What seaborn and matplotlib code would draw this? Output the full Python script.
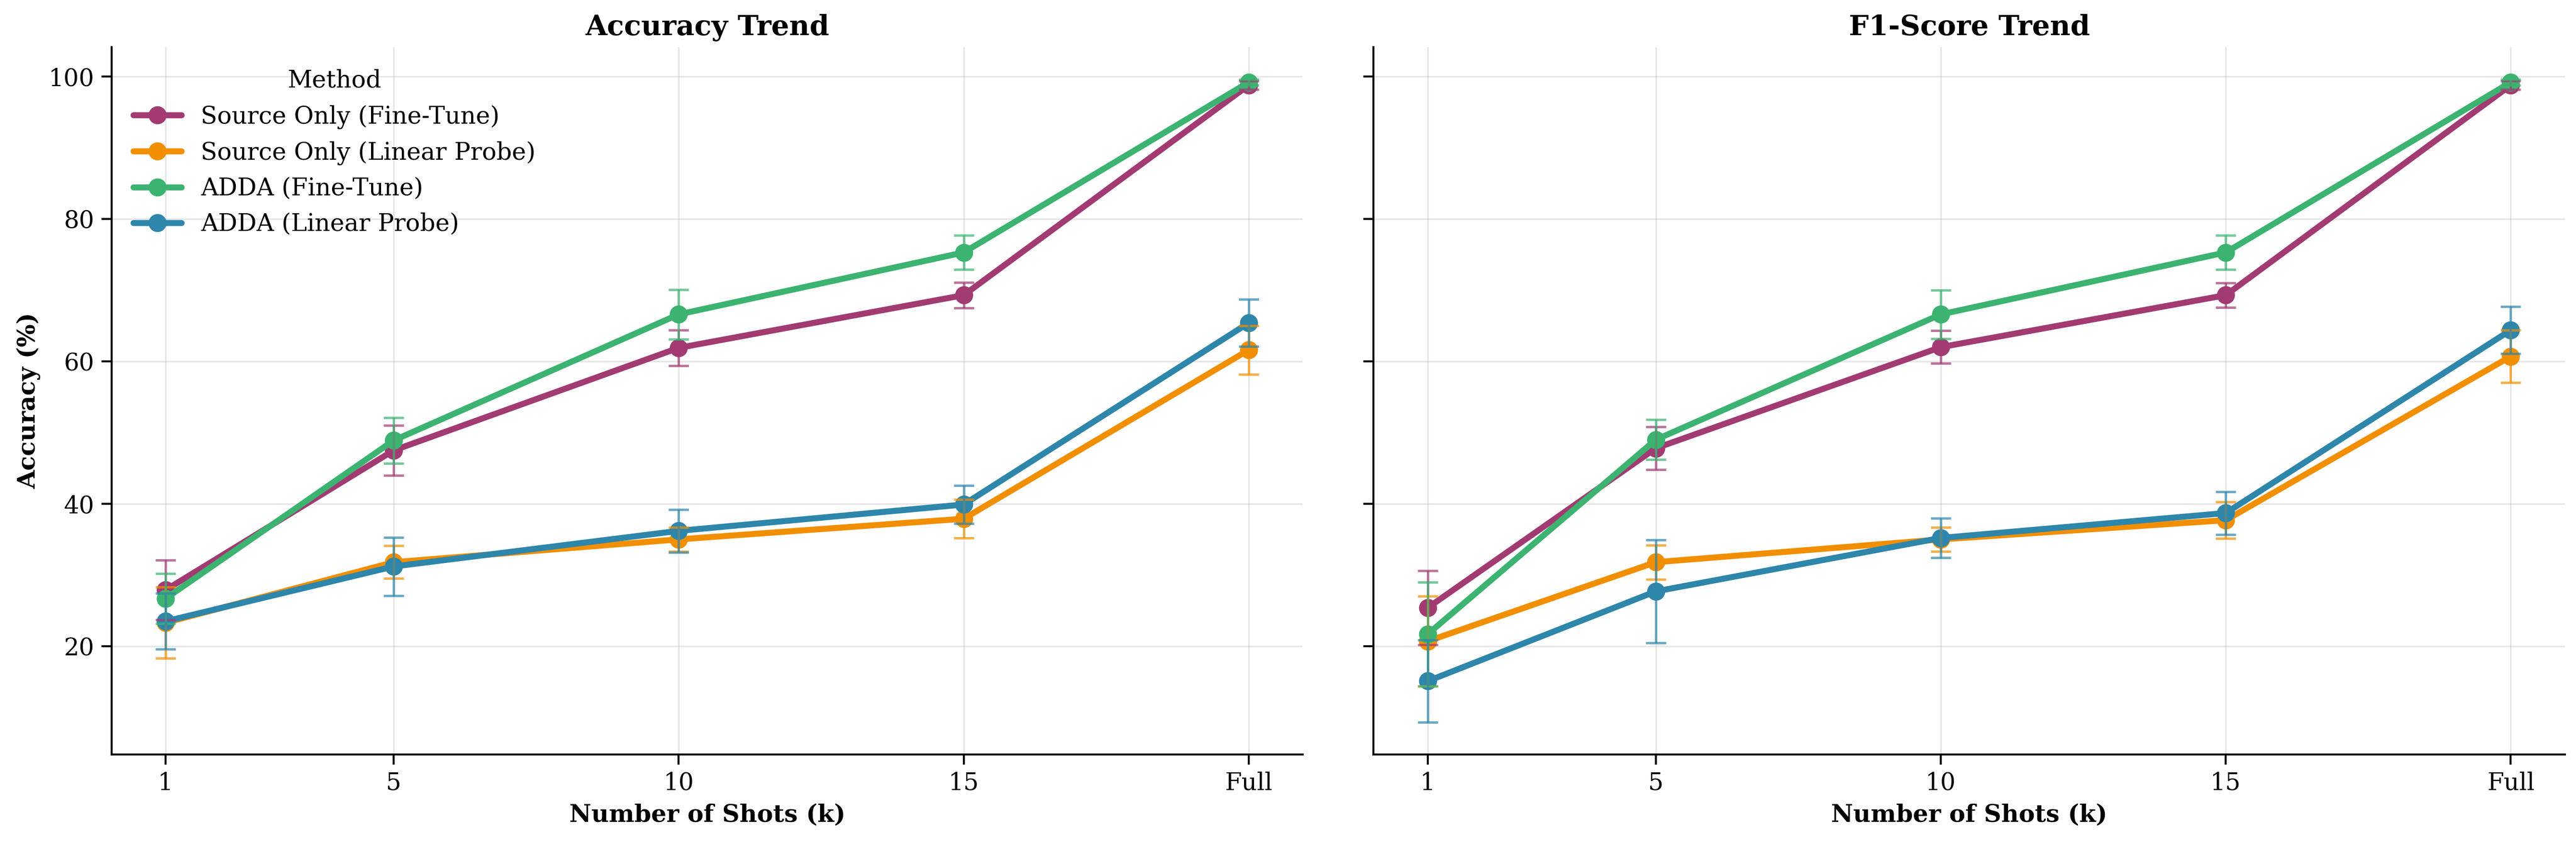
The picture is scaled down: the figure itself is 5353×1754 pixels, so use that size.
import pandas as pd
import seaborn as sns
import matplotlib.pyplot as plt

# datos
shots = [1, 5, 10, 15, 20]
shot_labels = ['1', '5', '10', '15', 'Full']
methods = ['Source Only (Fine-Tune)', 'Source Only (Linear Probe)',
           'ADDA (Fine-Tune)', 'ADDA (Linear Probe)']
colores = ['#A23B72', '#F18F01', '#3CB371', '#2E86AB']

acc_so_ft = [27.9, 47.5, 61.9, 69.3, 98.8]
acc_so_lp = [23.3, 31.8, 35.0, 37.9, 61.6]
acc_adda_ft = [26.7, 48.9, 66.6, 75.3, 99.2]
acc_adda_lp = [23.5, 31.2, 36.2, 39.9, 65.4]

acc_so_ft_std = [4.2, 3.5, 2.5, 1.8, 0.6]
acc_so_lp_std = [5.0, 2.3, 1.7, 2.7, 3.4]
acc_adda_ft_std = [3.5, 3.2, 3.5, 2.4, 0.4]
acc_adda_lp_std = [3.9, 4.1, 3.0, 2.7, 3.3]

f1_so_ft = [25.4, 47.8, 62.0, 69.3, 98.8]
f1_so_lp = [20.7, 31.8, 35.0, 37.7, 60.7]
f1_adda_ft = [21.7, 49.0, 66.6, 75.3, 99.2]
f1_adda_lp = [15.1, 27.7, 35.2, 38.7, 64.4]

f1_so_ft_std = [5.2, 3.0, 2.3, 1.7, 0.6]
f1_so_lp_std = [6.3, 2.4, 1.7, 2.6, 3.7]
f1_adda_ft_std = [7.3, 2.8, 3.4, 2.4, 0.4]
f1_adda_lp_std = [5.8, 7.2, 2.8, 3.0, 3.3]

acc_vals = [acc_so_ft, acc_so_lp, acc_adda_ft, acc_adda_lp]
acc_stds = [acc_so_ft_std, acc_so_lp_std, acc_adda_ft_std, acc_adda_lp_std]
f1_vals = [f1_so_ft, f1_so_lp, f1_adda_ft, f1_adda_lp]
f1_stds = [f1_so_ft_std, f1_so_lp_std, f1_adda_ft_std, f1_adda_lp_std]


def armar_df(vals, stds):
    filas = []
    for m, v, s in zip(methods, vals, stds):
        for x, y, e in zip(shots, v, s):
            filas.append({'Shots': x, 'Value': y, 'Std': e, 'Method': m})
    return pd.DataFrame(filas)


sns.set_style('ticks')
plt.rcParams['font.family'] = 'serif'
plt.rcParams['axes.linewidth'] = 1.0
plt.rcParams['axes.edgecolor'] = 'black'
plt.rcParams['text.color'] = 'black'
plt.rcParams['axes.labelcolor'] = 'black'
plt.rcParams['xtick.color'] = 'black'
plt.rcParams['ytick.color'] = 'black'
plt.rcParams['xtick.major.size'] = 5
plt.rcParams['ytick.major.size'] = 5
plt.rcParams['xtick.major.width'] = 1.0
plt.rcParams['ytick.major.width'] = 1.0

fig, axes = plt.subplots(1, 2, figsize=(5353 / 300, 1754 / 300), dpi=300, sharey=True)
paleta = dict(zip(methods, colores))

paneles = [
    (axes[0], acc_vals, acc_stds, 'Accuracy Trend', 'Accuracy (%)', True),
    (axes[1], f1_vals, f1_stds, 'F1-Score Trend', 'F1-Score (%)', False),
]

for ax, vals, stds, titulo, ylab, con_leyenda in paneles:
    df = armar_df(vals, stds)
    sns.lineplot(data=df, x='Shots', y='Value', hue='Method', hue_order=methods,
                 palette=paleta, marker='o', markersize=9, markeredgewidth=0,
                 linewidth=3, legend=con_leyenda, ax=ax)
    # barras de error encima
    for m in methods:
        sub = df[df['Method'] == m]
        ax.errorbar(sub['Shots'], sub['Value'], yerr=sub['Std'], fmt='none',
                    ecolor=paleta[m], elinewidth=1.2, capsize=5, capthick=1.2,
                    alpha=0.7)
    ax.set_xticks(shots)
    ax.set_xticklabels(shot_labels)
    ax.tick_params(labelsize=12)
    ax.set_title(titulo, fontsize=14, fontweight='bold')
    ax.set_xlabel('Number of Shots (k)', fontsize=12, fontweight='bold')
    ax.set_ylabel(ylab, fontsize=12, fontweight='bold')
    ax.grid(True, color='#b0b0b0', alpha=0.3)
    sns.despine(ax=ax)
    if con_leyenda:
        ax.legend(title='Method', loc='upper left', frameon=False,
                  fontsize=12, title_fontsize=12)

plt.subplots_adjust(left=0.0433, right=0.9957, top=0.944, bottom=0.106, wspace=0.0594)
plt.savefig('out.png', dpi=300)
